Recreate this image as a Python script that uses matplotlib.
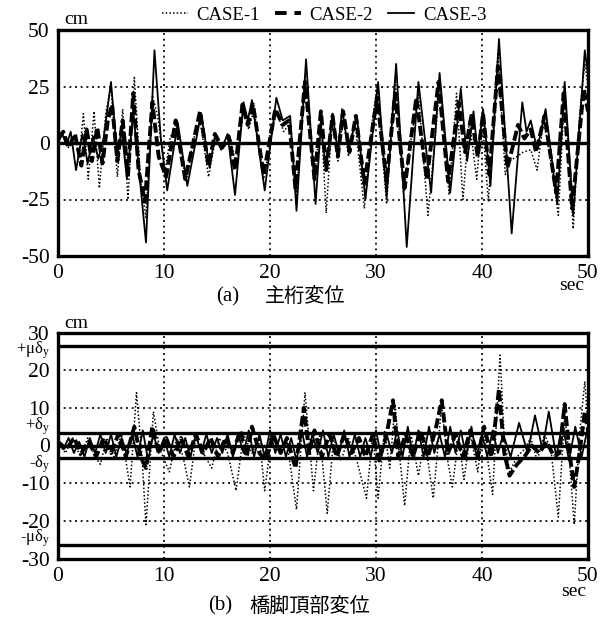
import numpy as np
import matplotlib
matplotlib.use('Agg')
import matplotlib.pyplot as plt
from matplotlib.lines import Line2D
from matplotlib.transforms import blended_transform_factory

plt.rcParams['font.family'] = ['Liberation Serif', 'Noto Sans CJK JP']
plt.rcParams['mathtext.fontset'] = 'stix'
plt.rcParams['axes.unicode_minus'] = False

# ---------------- data: (a) girder displacement [cm] ----------------
case1_a = [(0, 1), (0.5, 4), (1.0, -2), (1.6, 3), (2.0, -6), (2.4, 13), (2.85, -16), (3.4, 14),
           (3.9, -20), (4.5, 13), (5.0, 25), (5.6, -15), (6.1, 15), (6.6, -25), (7.2, 29), (7.8, -17),
           (8.3, -33), (8.9, 21), (9.4, 12), (10.1, -13), (10.6, 3), (11.2, 5), (12.1, -17), (12.8, 2),
           (13.4, 10), (14.2, -15), (14.9, 3), (15.6, -2), (16.3, 2), (16.8, -10), (17.5, 15), (18.0, 6),
           (18.5, 15), (19.4, -16), (20.1, 2), (20.6, 14), (21.3, 5), (21.9, 9), (22.5, -23), (23.3, 30),
           (24.2, -15), (24.8, 12), (25.3, -31), (25.9, 13), (26.4, -8), (26.9, 12), (27.4, -6), (28.0, 10),
           (28.9, -29), (29.6, 8), (30.1, 25), (31.0, -27), (31.8, 28), (32.6, -22), (33.4, 5), (34.0, 22),
           (34.9, -32), (35.6, 3), (36.0, 26), (36.9, -23), (37.6, 22), (38.2, -25), (38.8, 10), (39.5, -16),
           (40.0, 12), (40.6, -26), (41.5, 40), (42.2, -14), (42.6, -8), (43.3, -6), (43.9, -4), (44.6, -3),
           (45.2, -12), (45.8, 10), (46.5, -8), (47.2, -32), (47.8, 23), (48.6, -38), (49.2, 12), (49.7, 35),
           (50.0, 25)]

case2_a = [(0, 2), (0.5, 5), (1.0, -2), (1.6, 4), (2.2, -10), (2.7, 6), (3.2, -8), (3.7, 7), (4.2, -9),
           (4.7, 10), (5.1, 17), (5.6, -8), (6.1, 10), (6.6, -14), (7.1, 22), (7.6, -12), (8.2, -26),
           (8.9, 18), (9.5, -6), (10.2, -15), (11.1, 10), (12.0, -16), (13.4, 14), (14.2, -10), (14.8, 4),
           (15.5, -2), (16.1, 3), (16.7, -12), (17.4, 17), (17.9, 8), (18.4, 17), (19.4, -14), (20.5, 15),
           (21.2, 8), (21.8, 10), (22.4, -20), (23.3, 27), (24.2, -16), (24.8, 14), (25.3, -12), (25.9, 12),
           (26.4, -6), (26.9, 14), (27.5, -4), (28.1, 12), (28.9, -18), (30.1, 20), (31.0, -17), (31.8, 22),
           (32.7, -20), (33.8, 20), (34.8, -16), (35.9, 27), (36.8, -17), (37.8, 18), (38.4, -4), (39.0, 12),
           (39.6, -6), (40.1, 13), (40.7, -14), (41.5, 34), (42.4, -11), (43.4, 8), (44.0, 2), (44.6, 6),
           (45.1, -4), (45.9, 12), (47.0, -22), (47.7, 22), (48.5, -29), (49.6, 24), (50.0, 14)]

case3_a = [(0, 0), (0.4, 4), (0.8, -1), (1.2, 5), (1.7, -12), (2.3, 4), (2.8, -9), (3.3, 3), (3.8, -7),
           (4.3, 2), (5.0, 27), (5.6, -6), (6.0, 6), (6.5, -16), (7.1, 14), (7.6, -10), (8.3, -44),
           (9.1, 41), (9.7, 2), (10.3, -21), (11.3, 9), (12.2, -19), (13.5, 13), (14.3, -11), (14.8, 3),
           (15.4, -3), (16.0, 4), (16.7, -23), (17.5, 18), (17.9, 10), (18.3, 19), (19.5, -21), (20.6, 20),
           (21.2, 10), (21.9, 12), (22.5, -30), (23.4, 37), (24.3, -27), (24.8, 8), (25.3, -12), (25.9, 13),
           (26.4, -4), (26.8, 15), (27.4, -3), (28.2, 12), (29.0, -25), (30.2, 27), (31.0, -24), (31.9, 35),
           (32.9, -46), (34.0, 27), (35.2, -22), (36.0, 31), (37.0, -22), (38.0, 24), (38.6, -8), (39.2, 14),
           (39.6, -5), (40.1, 15), (40.8, -19), (41.6, 46), (42.8, -40), (43.8, 18), (44.2, 5), (44.6, 10),
           (45.2, -3), (46.0, 15), (47.1, -27), (47.8, 27), (48.6, -32), (49.7, 41), (50.0, 30)]

# ---------------- data: (b) pier-top displacement [cm] ----------------
case1_b = [(0, 1), (0.7, -2), (1.4, 2), (2.1, -3), (2.8, 2), (3.5, -3), (4.0, -5), (4.6, 2), (5.3, -3),
           (6.0, 3), (6.8, -11), (7.4, 14), (7.9, -2), (8.3, -21), (9.0, 9), (9.6, -1), (10.5, -7),
           (11.2, 2), (11.8, -3), (12.4, -11), (13.0, 2), (13.7, -2), (14.5, -6), (15.2, 2), (16.0, -2),
           (16.8, -12), (17.5, 3), (18.3, -2), (19.0, 2), (19.5, -12), (20.2, 3), (20.9, -2), (21.6, 1),
           (22.5, -17), (23.3, 14), (23.8, -2), (24.1, -12), (24.7, 3), (25.4, -18), (26.0, 2), (26.7, -4),
           (27.4, 2), (28.1, -3), (29.1, -14), (29.7, 3), (30.2, -14), (30.8, 4), (31.3, -6), (31.8, 11),
           (32.2, -2), (32.7, -16), (33.3, 3), (34.0, -8), (34.6, 2), (35.4, -14), (36.2, 11), (36.7, -3),
           (37.2, -11), (37.8, 2), (38.3, -9), (38.9, 3), (39.6, -7), (40.1, 5), (41.0, -13), (41.7, 24),
           (42.1, 2), (42.6, -7), (43.3, -3), (44.0, -1), (44.6, 2), (45.2, -4), (45.9, 3), (46.5, -1),
           (47.2, -19), (47.8, 8), (48.2, -2), (48.7, -21), (49.2, 3), (49.7, 17), (50.0, 5)]

case2_b = [(0, 1), (0.8, -1), (1.5, 2), (2.2, -2), (2.9, 1), (3.6, -3), (4.3, 2), (5.0, -2), (5.7, 3),
           (6.4, -3), (7.2, 5), (7.8, -3), (8.3, -6), (8.9, 5), (9.5, -2), (10.2, 2), (10.9, -3), (11.6, 2),
           (12.3, -3), (13.0, 3), (13.7, -2), (14.4, 2), (15.1, -3), (15.8, 2), (16.5, -2), (17.2, 4),
           (17.8, -3), (18.3, 5), (19.0, -2), (19.6, -4), (20.3, 3), (21.0, -2), (21.6, 2), (22.4, -6),
           (23.2, 10), (23.7, -2), (24.2, 4), (24.9, -3), (25.6, 3), (26.3, -3), (27.0, 3), (27.7, -2),
           (28.4, 2), (29.0, -3), (29.7, 3), (30.3, -4), (31.0, 3), (31.6, 12), (32.1, -3), (32.8, 3),
           (33.5, -3), (34.2, 4), (34.9, -3), (35.6, 4), (36.2, 12), (36.8, -2), (37.5, 3), (38.2, -3),
           (38.9, 4), (39.6, -3), (40.2, 5), (40.9, -3), (41.6, 15), (42.1, -2), (42.6, -8), (43.3, -5),
           (44.0, -3), (44.7, 0), (45.4, -2), (46.1, 1), (46.8, -3), (47.3, -2), (47.8, 11), (48.3, -3),
           (48.7, -11), (49.2, -2), (49.7, 9), (50.0, 4)]

case3_b = [(0, 1), (0.5, -1), (1.0, 2), (1.5, -2), (2.0, 1), (2.5, -3), (3.0, 2), (3.5, -2), (4.0, 3),
           (4.5, -2), (5.0, 3), (5.5, -3), (6.0, 2), (6.5, -2), (7.0, 3), (7.5, -3), (8.0, 4), (8.5, -4),
           (9.0, 3), (9.5, -2), (10.0, 2), (10.5, -3), (11.0, 3), (11.5, -2), (12.0, 2), (12.5, -3),
           (13.0, 3), (13.5, -2), (14.0, 3), (14.5, -2), (15.0, 2), (15.5, -2), (16.0, 3), (16.5, -3),
           (17.0, 3), (17.5, -2), (18.0, 4), (18.5, -3), (19.0, 3), (19.5, -3), (20.0, 4), (20.5, -2),
           (21.0, 3), (21.5, -3), (22.0, 2), (22.5, -4), (23.0, 4), (23.5, -3), (24.0, 3), (24.5, -2),
           (25.0, 4), (25.5, -3), (26.0, 3), (26.5, -2), (27.0, 4), (27.5, -3), (28.0, 3), (28.5, -3),
           (29.0, 2), (29.5, -3), (30.0, 4), (30.5, -3), (31.0, 3), (31.5, -2), (32.0, 4), (32.5, -3),
           (33.0, 5), (33.5, -3), (34.0, 4), (34.5, -3), (35.0, 5), (35.5, -2), (36.0, 3), (36.5, -3),
           (37.0, 5), (37.5, -2), (38.0, 4), (38.5, -3), (39.0, 5), (39.5, -3), (40.0, 3), (40.5, -3),
           (41.0, 4), (41.5, -2), (42.0, 3), (42.7, -3), (43.5, 6), (44.3, -2), (45.0, 8), (45.7, -1),
           (46.3, 9), (47.0, -3), (47.6, 6), (48.2, -4), (48.8, 5), (49.4, -3), (50.0, 5)]

# reference levels for pier (b)
delta_y = 3.3
mu_delta_y = 26.5

series_names = ['CASE-1', 'CASE-2', 'CASE-3']
x_ticks = [0, 10, 20, 30, 40, 50]
y_ticks_a = [50, 25, 0, -25, -50]
y_ticks_b = [30, 20, 10, 0, -10, -20, -30]

# ---------------- styles ----------------
styles = {
    'CASE-1': dict(color='black', lw=1.1, linestyle=(0, (1.0, 1.4))),
    'CASE-2': dict(color='black', lw=2.8, linestyle=(0, (2.6, 0.9))),
    'CASE-3': dict(color='black', lw=1.3, linestyle='-'),
}

fig = plt.figure(figsize=(6.15, 6.2), dpi=100)
fig.patch.set_facecolor('white')
axa = fig.add_axes([58 / 615, 1 - 256 / 620, 530 / 615, 226 / 620])
axb = fig.add_axes([58 / 615, 1 - 558.5 / 620, 530 / 615, 226 / 620])

tick_fs = 15.5
grid_kw = dict(color='black', lw=1.2, linestyle=(0, (1.2, 2.2)), zorder=1)

for ax, data, lim, yt in [(axa, [case1_a, case2_a, case3_a], 50, y_ticks_a),
                          (axb, [case1_b, case2_b, case3_b], 30, y_ticks_b)]:
    for name, d in zip(series_names, data):
        t, v = zip(*d)
        ax.plot(t, v, zorder=3, **styles[name])
    ax.set_xlim(0, 50)
    ax.set_ylim(-lim, lim)
    ax.set_xticks(x_ticks)
    ax.set_yticks(yt)
    for xv in x_ticks[1:-1]:
        ax.axvline(xv, **grid_kw)
    ax.tick_params(length=0, labelsize=tick_fs, pad=6)
    for sp in ax.spines.values():
        sp.set_linewidth(2.4)

# (a) gridlines and zero line
for yv in [25, -25]:
    axa.axhline(yv, **grid_kw)
axa.axhline(0, color='black', lw=2.4, zorder=4)

# (b) gridlines and yield levels
for yv in [20, 10, -10, -20]:
    axb.axhline(yv, **grid_kw)
for yv in [mu_delta_y, delta_y, 0, -delta_y, -mu_delta_y]:
    axb.axhline(yv, color='black', lw=2.4, zorder=4)

trans = blended_transform_factory(axb.transAxes, axb.transData)
for label, yv in [('+μδ$_\\mathregular{y}$', 25.3), ('+δ$_\\mathregular{y}$', 5.0),
                  ('-δ$_\\mathregular{y}$', -5.0), ('-μδ$_\\mathregular{y}$', -24.6)]:
    axb.text(-0.014, yv, label, transform=trans, ha='right', va='center', fontsize=12)

# units
fig.text(64 / 615, 1 - 20 / 620, 'cm', fontsize=14, ha='left', va='center')
fig.text(64 / 615, 1 - 324 / 620, 'cm', fontsize=14, ha='left', va='center')
fig.text(572 / 615, 1 - 286 / 620, 'sec', fontsize=14, ha='center', va='center')
fig.text(574 / 615, 1 - 592 / 620, 'sec', fontsize=14, ha='center', va='center')

# captions
fig.text(228 / 615, 1 - 297 / 620, '(a)', fontsize=15, ha='center', va='center')
fig.text(305 / 615, 1 - 297 / 620, '主桁変位', fontsize=14.5, ha='center', va='center',
         family=['Noto Sans CJK JP'])
fig.text(220 / 615, 1 - 606 / 620, '(b)', fontsize=15, ha='center', va='center')
fig.text(310 / 615, 1 - 606 / 620, '橋脚頂部変位', fontsize=14.5, ha='center', va='center',
         family=['Noto Sans CJK JP'])

# legend
handles = [Line2D([], [], **styles[n]) for n in series_names]
handles[1] = Line2D([], [], color='black', lw=2.8, linestyle=(0, (3.0, 2.0)))
fig.legend(handles, series_names, loc='center', bbox_to_anchor=(324 / 615, 1 - 15 / 620),
           ncol=3, frameon=False, fontsize=13.5, handlelength=1.4, handletextpad=0.45,
           columnspacing=0.8, borderpad=0)

fig.savefig('out.png', dpi=100, facecolor='white')
